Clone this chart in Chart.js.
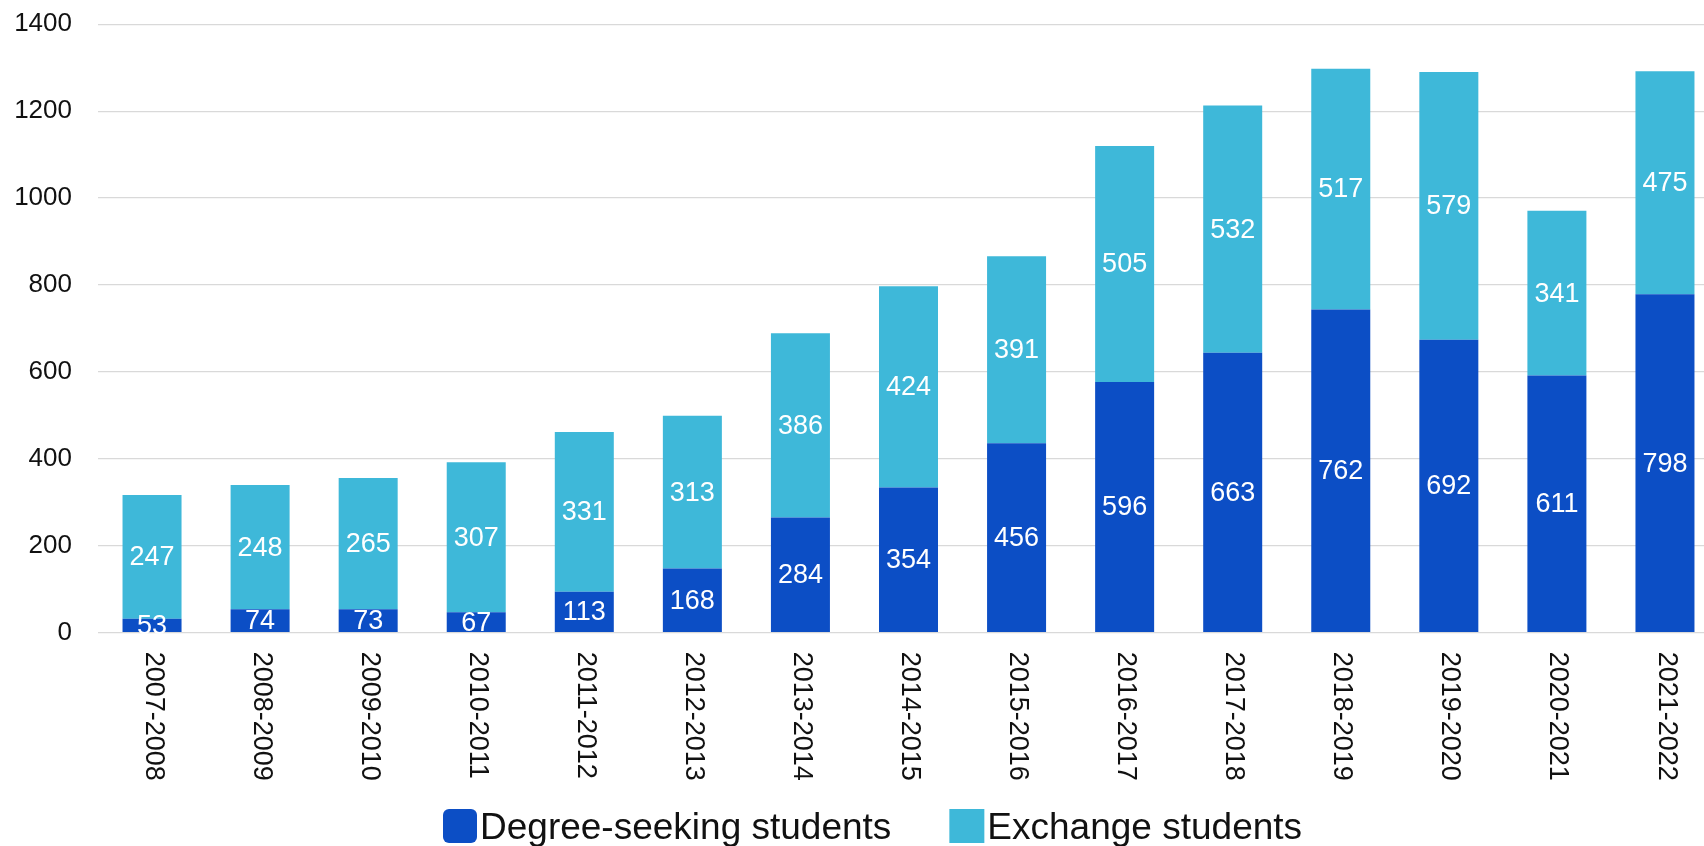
<!DOCTYPE html>
<html>
<head>
<meta charset="utf-8">
<script src="https://cdn.jsdelivr.net/npm/chart.js@4"></script>
<style>
  html, body { margin: 0; padding: 0; background: #fff; overflow: hidden; }
  .c-chart { width: 1722px; height: 846px; }
</style>
</head>
<body>
<div class="c-chart js-chart"><canvas id="studentChart" width="1722" height="846"></canvas></div>
<script>
const years = ["2007-2008", "2008-2009", "2009-2010", "2010-2011", "2011-2012", "2012-2013", "2013-2014",
  "2014-2015", "2015-2016", "2016-2017", "2017-2018", "2018-2019", "2019-2020", "2020-2021", "2021-2022"];

// bar heights as they are drawn in the picture
const degreeSeeking = [32, 54, 54, 47, 94, 148, 265, 334, 436, 577, 644, 744, 674, 592, 779];
const exchange = [285, 286, 302, 345, 368, 351, 424, 463, 430, 543, 569, 554, 616, 379, 513];

// numbers printed inside the bars
const degreeSeekingText = [53, 74, 73, 67, 113, 168, 284, 354, 456, 596, 663, 762, 692, 611, 798];
const exchangeText = [247, 248, 265, 307, 331, 313, 386, 424, 391, 505, 532, 517, 579, 341, 475];

const yTicks = [0, 200, 400, 600, 800, 1000, 1200, 1400];

const fontFamily = '"Liberation Sans", Arial, sans-serif';
const darkBlue = "#0c4ec5";
const lightBlue = "#3eb8d9";

const valueLabels = {
  id: "valueLabels",
  afterDatasetsDraw: function (chart) {
    const ctx = chart.ctx;
    ctx.save();
    ctx.font = `27px ${fontFamily}`;
    ctx.fillStyle = "#ffffff";
    ctx.textAlign = "center";
    ctx.textBaseline = "middle";
    chart.data.datasets.forEach(function (ds, d) {
      const meta = chart.getDatasetMeta(d);
      meta.data.forEach(function (bar, i) {
        ctx.fillText(String(ds.printed[i]), bar.x, (bar.y + bar.base) / 2 + 1);
      });
    });
    ctx.restore();
  }
};

// x labels read top to bottom, so they are drawn here
const yearLabels = {
  id: "yearLabels",
  afterDraw: function (chart) {
    const ctx = chart.ctx;
    const xScale = chart.scales.x;
    ctx.save();
    ctx.font = `27px ${fontFamily}`;
    ctx.fillStyle = "#111111";
    ctx.textAlign = "left";
    ctx.textBaseline = "middle";
    years.forEach(function (year, i) {
      ctx.save();
      ctx.translate(xScale.getPixelForTick(i) + 1, chart.chartArea.bottom + 19);
      ctx.rotate(Math.PI / 2);
      ctx.fillText(year, 0, 0);
      ctx.restore();
    });
    ctx.restore();
  }
};

const bottomLegend = {
  id: "bottomLegend",
  afterDraw: function (chart) {
    const ctx = chart.ctx;
    ctx.save();
    ctx.font = `37px ${fontFamily}`;
    ctx.textBaseline = "alphabetic";
    ctx.textAlign = "left";
    let x = 443;
    chart.data.datasets.forEach(function (ds, d) {
      ctx.fillStyle = ds.backgroundColor;
      ctx.beginPath();
      if (d === 0) {
        ctx.roundRect(x, 809, 34, 34, 6);
      } else {
        ctx.rect(x, 809, 35, 34);
      }
      ctx.fill();
      x += (d === 0 ? 34 : 35) + 3;
      ctx.fillStyle = "#111111";
      ctx.fillText(ds.label, x, 838.5);
      x += ctx.measureText(ds.label).width + 58;
    });
    ctx.restore();
  }
};

const drawChart = function () {
  const ctx = document.getElementById("studentChart").getContext("2d");
  const config = {
    type: "bar",
    data: {
      labels: years,
      datasets: [
        {
          label: "Degree-seeking students",
          data: degreeSeeking,
          printed: degreeSeekingText,
          backgroundColor: darkBlue,
          barPercentage: 0.546,
          categoryPercentage: 1
        },
        {
          label: "Exchange students",
          data: exchange,
          printed: exchangeText,
          backgroundColor: lightBlue,
          barPercentage: 0.546,
          categoryPercentage: 1
        }
      ]
    },
    options: {
      responsive: false,
      animation: false,
      devicePixelRatio: 1,
      layout: {
        padding: { top: 24.3, right: 3, bottom: 213.3, left: 0 }
      },
      scales: {
        x: {
          display: false,
          stacked: true
        },
        y: {
          stacked: true,
          min: 0,
          max: 1400,
          afterBuildTicks: function (scale) {
            scale.ticks = yTicks.map(function (v) { return { value: v }; });
          },
          afterFit: function (scale) {
            scale.width = 98;
            scale.paddingTop = 0;
            scale.paddingBottom = 0;
          },
          ticks: {
            color: "#111111",
            padding: 26,
            font: { family: fontFamily, size: 26 },
            callback: function (value) {
              return String(value);
            }
          },
          grid: {
            color: "#d9d9d9",
            lineWidth: 1.3,
            drawTicks: false
          },
          border: { display: false }
        }
      },
      plugins: {
        legend: { display: false },
        title: { display: false },
        tooltip: { enabled: false }
      }
    },
    plugins: [valueLabels, yearLabels, bottomLegend]
  };
  new Chart(ctx, config);
};

document.addEventListener("DOMContentLoaded", function () {
  drawChart();
});
</script>
</body>
</html>
